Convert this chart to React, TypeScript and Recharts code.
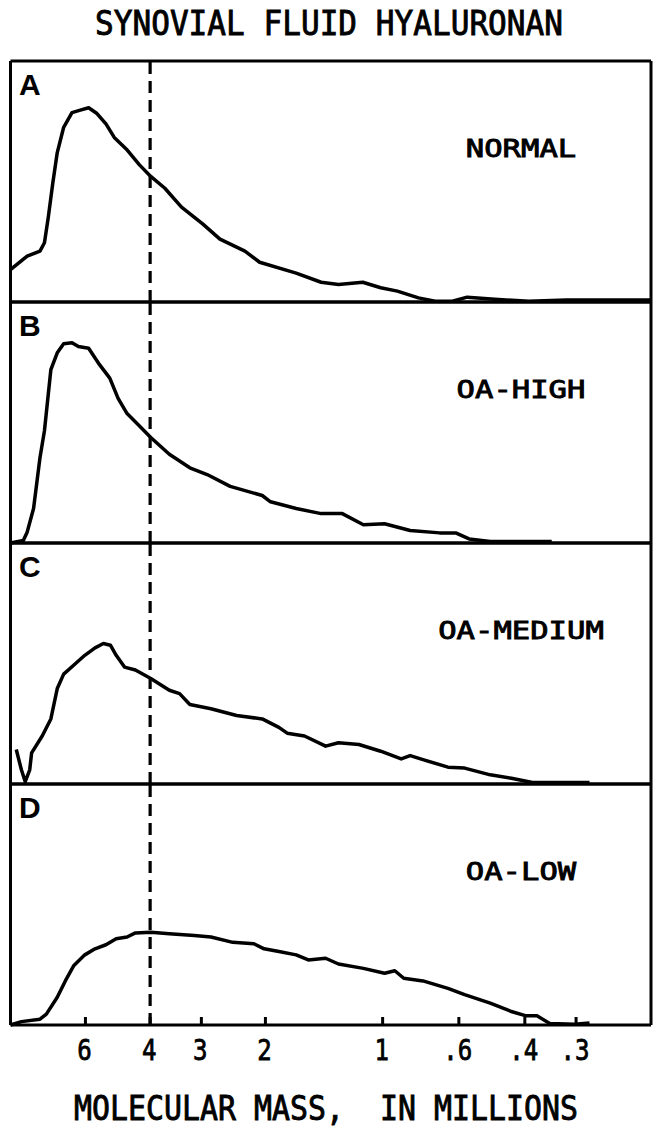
import React from 'react';
import { LineChart, Line, XAxis, YAxis, ReferenceLine } from 'recharts';

// x = relative migration distance across the gel (0-100), y = relative stain intensity (0-100)
const tickPositions = [11.7, 21.8, 29.8, 39.8, 58.1, 70.0, 80.3, 88.3];
const tickLabels = ['6', '4', '3', '2', '1', '.6', '.4', '.3'];
const markerX = 21.8; // 4 million

const panelLetters = ['A', 'B', 'C', 'D'];
const panelNames = ['NORMAL', 'OA-HIGH', 'OA-MEDIUM', 'OA-LOW'];

const normal: [number, number][] = [
  [0, 13.4], [1.3, 16.2], [2.6, 19], [4.6, 21.1], [5.3, 24.6], [5.9, 35.2], [6.6, 49.3],
  [7.3, 62], [8.3, 72.5], [9.6, 78.6], [10.9, 79.6], [12.2, 80.6], [13.5, 78.2], [14.9, 73.9],
  [16.2, 68.3], [18.1, 63.4], [20.1, 57], [21.9, 52.1], [24.1, 47.2], [26.7, 39.4], [30, 32.4],
  [32.7, 26.1], [36.6, 21.1], [38.9, 16.5], [44.6, 12], [48.5, 8.2], [51.2, 7.3], [55, 8.2],
  [57.8, 5.9], [60.4, 4.5], [63.7, 1.7], [66.3, 0.3], [69, 0.3], [71.3, 2], [75.6, 1.1],
  [80.9, 0.3], [86.8, 0.8], [92, 0.8], [96.7, 0.8], [100, 0.8],
];

const oaHigh: [number, number][] = [
  [0, 0], [2, 1], [2.6, 4.5], [3.6, 14.3], [4.6, 35.4], [5.3, 46.6], [6.3, 71.9], [7.3, 78.9],
  [8.3, 82.7], [9.6, 83.1], [10.6, 81.5], [12.2, 80.8], [13.9, 74], [15.5, 68.4], [16.8, 60],
  [18.2, 53.7], [20.1, 48.7], [21.9, 43.8], [24.8, 36.8], [28, 31.2], [30.7, 28.4], [34.3, 23.5],
  [39.3, 19.7], [40.6, 17.1], [44.6, 14.3], [48.5, 12.2], [51.8, 12.2], [55.1, 7.6], [58.4, 8],
  [62.4, 5.2], [67, 4.2], [69.6, 4.1], [71.6, 1.7], [74.9, 0.6], [80.9, 0.6], [84.5, 0.6],
];

const oaMedium: [number, number][] = [
  [0.9, 14.3], [1.7, 5.9], [2.3, 1], [3, 5.9], [3.3, 12.9], [4.95, 19.9], [6.3, 27], [7.3, 39.6],
  [8.3, 45.6], [9.9, 49.4], [11.6, 53.4], [13.2, 56.5], [14.5, 58.3], [15.6, 57.6], [16.5, 53.4],
  [17.8, 48.5], [19.5, 47.3], [21.9, 43.8], [24.8, 38.9], [26.4, 37.5], [28, 33], [31.3, 31.2],
  [35.3, 28.4], [39.3, 27], [41.9, 23.5], [43.2, 21.1], [45.9, 19.9], [49.2, 15.7], [51.2, 17.1],
  [54.4, 16.4], [57.8, 13.6], [61, 10.4], [62.4, 11.8], [64.4, 10.1], [68.3, 7], [70.9, 6.6],
  [74.9, 3.8], [78.2, 2.4], [81.5, 0.6], [86.1, 0.6], [90.4, 0.6],
];

const oaLow: [number, number][] = [
  [0, 0], [1.7, 1.4], [4.6, 2.4], [5.6, 4.5], [7.3, 11.5], [8.6, 18.5], [9.9, 24.7], [11.6, 29.1],
  [13.2, 31.6], [14.9, 33.3], [16.5, 35.8], [18.2, 36.5], [19.5, 38.2], [21.9, 38.5], [24.8, 37.9],
  [28.7, 37.1], [31.3, 36.5], [34.7, 34.3], [38, 33.7], [39.6, 31.6], [41.9, 30.5], [44.6, 29.1],
  [46.5, 27], [49.2, 27.7], [51.2, 25.3], [55.1, 23.5], [58.4, 21.5], [60, 22.5], [61.4, 19.4],
  [64.4, 18.3], [68.3, 15.2], [70.9, 12.6], [74.9, 9.1], [78.2, 5.6], [80.5, 3.8], [82.2, 3.8],
  [84.2, 0.6], [88.1, 0.3], [90.4, 0.8],
];

const series = [normal, oaHigh, oaMedium, oaLow];

const W = 662;
const H = 1133;
const PLOT_LEFT = 10.5;
const PLOT_RIGHT = 651;
const PANEL_TOPS = [61, 302, 543, 784];
const PANEL_H = 241;
const PAD = 6;
const BOTTOM_EXTRA = 50;
const MONO = '"DejaVu Sans Mono", monospace';

const MassTick = (props: any) => {
  const { x, y, payload } = props;
  const label = tickLabels[tickPositions.indexOf(payload.value)];
  return (
    <g>
      <line x1={x} x2={x} y1={y} y2={y - 8} stroke="#000" strokeWidth={3} />
      <text
        x={x - 1}
        y={y + 35}
        textAnchor="middle"
        fontFamily={MONO}
        fontSize={29}
        fill="#000"
        stroke="#000"
        strokeWidth={0.8}
        textLength={label.length * 14.5}
        lengthAdjust="spacingAndGlyphs"
      >
        {label}
      </text>
    </g>
  );
};

const frame = { stroke: '#000', strokeWidth: 3 };

const Panel = ({ data, last }: { data: [number, number][]; last: boolean }) => {
  const rows = data.map(([x, y]) => ({ x, y }));
  const bottom = last ? BOTTOM_EXTRA : PAD;
  return (
    <LineChart
      width={W}
      height={PANEL_H + PAD + bottom}
      data={rows}
      margin={{ top: PAD - 1, bottom: bottom - 1, left: PLOT_LEFT - 1, right: W - PLOT_RIGHT - 1 }}
    >
      <XAxis
        xAxisId="b"
        type="number"
        dataKey="x"
        domain={[0, 100]}
        ticks={last ? tickPositions : []}
        interval={0}
        height={1}
        axisLine={frame}
        tickLine={false}
        tickSize={0}
        tickMargin={0}
        tick={last ? <MassTick /> : false}
      />
      <XAxis xAxisId="t" orientation="top" type="number" domain={[0, 100]} height={1} axisLine={frame} tick={false} tickLine={false} />
      <YAxis yAxisId="l" type="number" domain={[0, 100]} width={1} axisLine={frame} tick={false} tickLine={false} />
      <YAxis yAxisId="r" orientation="right" type="number" domain={[0, 100]} width={1} axisLine={frame} tick={false} tickLine={false} />
      <ReferenceLine xAxisId="b" yAxisId="l" x={markerX} stroke="#000" strokeWidth={3.2} strokeDasharray="12 7" />
      <Line
        xAxisId="b"
        yAxisId="l"
        type="linear"
        dataKey="y"
        stroke="#000"
        strokeWidth={3.5}
        strokeLinejoin="round"
        dot={false}
        isAnimationActive={false}
      />
    </LineChart>
  );
};

export default function App() {
  return (
    <div style={{ position: 'absolute', left: 0, top: 0, width: W, height: H, background: '#fff' }}>
      {series.map((s, i) => (
        <div key={i} style={{ position: 'absolute', left: 0, top: PANEL_TOPS[i] - PAD }}>
          <Panel data={s} last={i === series.length - 1} />
        </div>
      ))}
      <svg width={W} height={H} style={{ position: 'absolute', left: 0, top: 0, pointerEvents: 'none' }}>
        <g fill="#000" stroke="#000" strokeWidth={0.9} fontFamily={MONO}>
          <text x={95} y={35} fontSize={34} textLength={468} lengthAdjust="spacingAndGlyphs">
            SYNOVIAL FLUID HYALURONAN
          </text>
          {panelNames.map((n, i) => (
            <text key={n} x={521} y={PANEL_TOPS[i] + 96} textAnchor="middle" fontSize={25} textLength={n.length * 18.4} lengthAdjust="spacingAndGlyphs">
              {n}
            </text>
          ))}
          <text x={74} y={1120} fontSize={34} textLength={504} lengthAdjust="spacingAndGlyphs" xmlSpace="preserve">
            MOLECULAR MASS,  IN MILLIONS
          </text>
        </g>
        {panelLetters.map((l, i) => (
          <text key={l} x={19} y={PANEL_TOPS[i] + 34} fontFamily='"Liberation Sans", Arial, sans-serif' fontWeight="bold" fontSize={30}>
            {l}
          </text>
        ))}
      </svg>
    </div>
  );
}
